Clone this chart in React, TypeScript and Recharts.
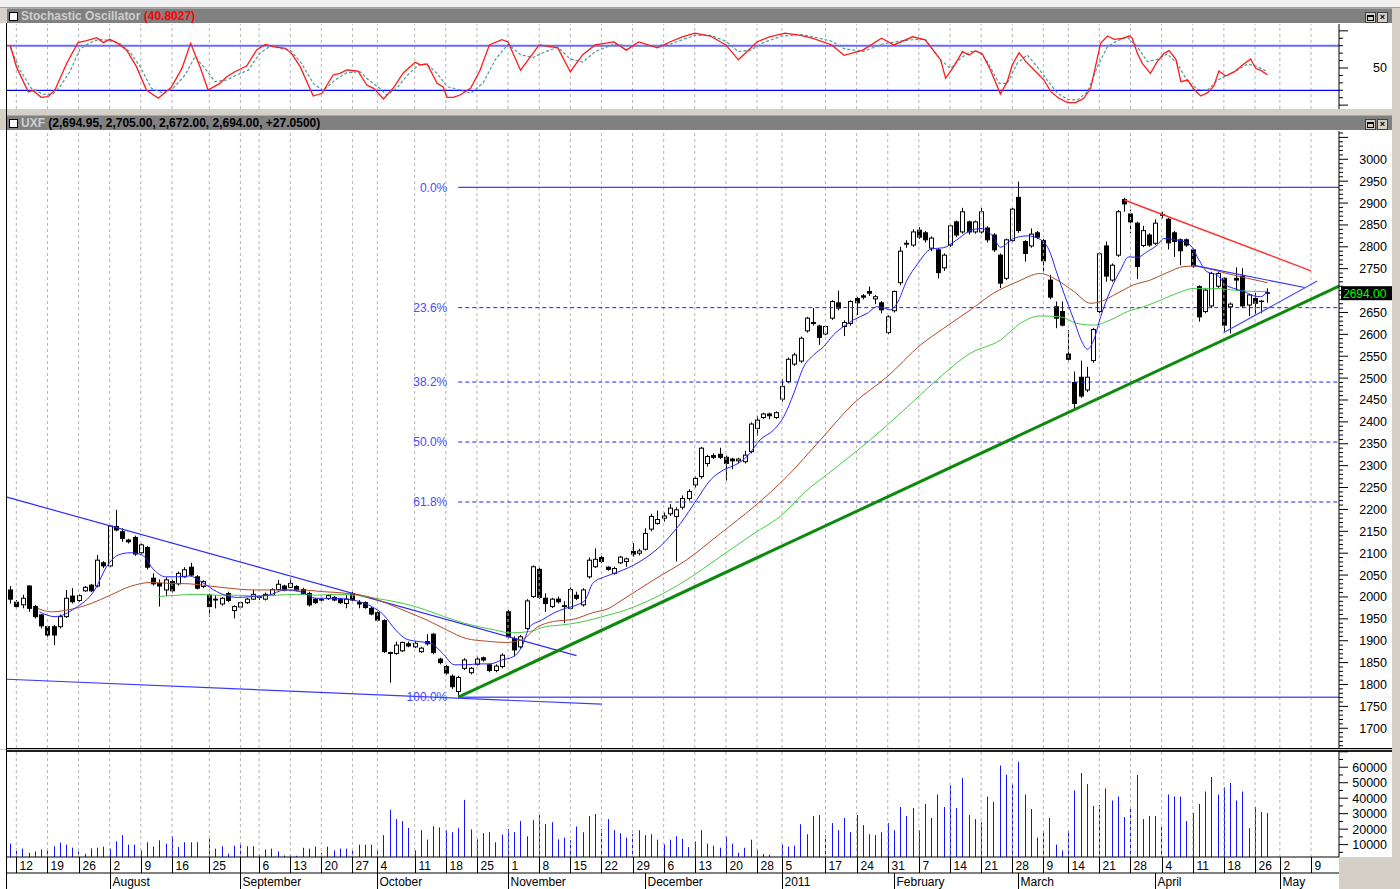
import React from 'react'
import { ComposedChart, Bar, Line, XAxis, YAxis, ReferenceLine } from 'recharts'

const FONT = '"Liberation Sans", Arial, sans-serif'
const X_DOMAIN: [number, number] = [-0.5, 213.5]
const PRICE_DOMAIN: [number, number] = [1654.9, 3064.6]
const STOCH_DOMAIN: [number, number] = [-5.2, 109.2]
const VOL_DOMAIN: [number, number] = [2000, 70500]

// week separators (bar index) and their day labels
const WEEK_TICKS = [1, 6, 11, 16, 21, 26, 32, 37, 40, 45, 50, 55, 59, 65, 70, 75, 80, 85, 90, 95, 100, 105, 110, 115, 120, 124, 131, 136, 141, 146, 151, 156, 161, 166, 170, 175, 180, 185, 190, 195, 200, 204, 209]
const WEEK_LABELS = ['12', '19', '26', '2', '9', '16', '25', '', '6', '13', '20', '27', '4', '11', '18', '25', '1', '8', '15', '22', '29', '6', '13', '20', '28', '5', '17', '24', '31', '7', '14', '21', '28', '9', '14', '21', '28', '4', '11', '18', '26', '2', '9']
const MONTH_TICKS = [16, 37, 59, 80, 102, 124, 142, 162, 184, 204]
const MONTH_LABELS = ['August', 'September', 'October', 'November', 'December', '2011', 'February', 'March', 'April', 'May']

// daily candles, Jul 2010 - Apr 28 2011
const OPEN = [2016, 1988, 1982, 2025, 1978, 1959, 1932, 1932, 1932, 1955, 2002, 1992, 2014, 2027, 2025, 2078, 2071, 2161, 2149, 2130, 2136, 2101, 2113, 2043, 2031, 2016, 2035, 2030, 2046, 2068, 2046, 2024, 2004, 1995, 1984, 2008, 1969, 1977, 1987, 1995, 1999, 1995, 2004, 2017, 2025, 2022, 2024, 2017, 2008, 1995, 1994, 1996, 1999, 1995, 1985, 2008, 1987, 1987, 1974, 1964, 1946, 1873, 1871, 1877, 1893, 1886, 1875, 1898, 1915, 1858, 1841, 1819, 1784, 1837, 1827, 1846, 1861, 1845, 1832, 1841, 1966, 1905, 1886, 1928, 2001, 2063, 1997, 1978, 1995, 1978, 1974, 2004, 1982, 2046, 2069, 2090, 2068, 2054, 2078, 2081, 2104, 2100, 2109, 2155, 2168, 2180, 2190, 2184, 2205, 2225, 2256, 2275, 2305, 2323, 2326, 2319, 2315, 2311, 2309, 2332, 2385, 2410, 2418, 2410, 2452, 2492, 2532, 2539, 2608, 2627, 2619, 2601, 2637, 2672, 2618, 2625, 2682, 2688, 2698, 2681, 2672, 2604, 2654, 2718, 2806, 2804, 2838, 2832, 2797, 2793, 2752, 2804, 2857, 2834, 2857, 2834, 2834, 2843, 2827, 2781, 2728, 2814, 2913, 2812, 2802, 2832, 2814, 2724, 2663, 2652, 2555, 2490, 2502, 2473, 2540, 2652, 2802, 2724, 2781, 2908, 2875, 2854, 2803, 2827, 2808, 2872, 2863, 2832, 2816, 2816, 2793, 2709, 2652, 2665, 2710, 2728, 2663, 2728, 2733, 2667, 2682, 2675, 2695]
const HIGH = [2025, 1993, 2005, 2027, 1982, 1961, 1936, 1936, 1960, 2016, 2020, 2006, 2025, 2030, 2096, 2082, 2164, 2199, 2157, 2133, 2140, 2122, 2117, 2054, 2040, 2045, 2040, 2058, 2068, 2078, 2050, 2038, 2008, 2004, 2000, 2012, 1981, 1990, 1998, 2016, 2004, 2010, 2020, 2039, 2028, 2043, 2027, 2021, 2012, 1998, 1997, 2006, 2002, 1998, 2004, 2012, 1993, 1990, 1977, 1967, 1949, 1875, 1898, 1898, 1898, 1899, 1886, 1915, 1918, 1861, 1845, 1823, 1820, 1860, 1840, 1864, 1864, 1848, 1846, 1871, 1970, 1910, 1913, 1995, 2072, 2067, 2008, 1998, 2001, 1990, 2022, 2012, 2020, 2090, 2111, 2095, 2070, 2069, 2094, 2090, 2123, 2110, 2157, 2190, 2197, 2193, 2212, 2205, 2232, 2246, 2275, 2343, 2325, 2328, 2341, 2323, 2318, 2318, 2334, 2399, 2414, 2421, 2421, 2424, 2498, 2547, 2558, 2595, 2640, 2660, 2622, 2621, 2678, 2700, 2632, 2678, 2686, 2692, 2709, 2690, 2676, 2644, 2700, 2800, 2815, 2840, 2845, 2836, 2824, 2797, 2785, 2851, 2860, 2889, 2860, 2860, 2889, 2847, 2831, 2785, 2819, 2889, 2949, 2815, 2842, 2836, 2818, 2736, 2675, 2675, 2610, 2515, 2540, 2526, 2615, 2787, 2812, 2762, 2884, 2912, 2885, 2857, 2848, 2831, 2863, 2880, 2866, 2836, 2819, 2819, 2796, 2712, 2705, 2743, 2743, 2731, 2673, 2753, 2751, 2693, 2695, 2679, 2705]
const LOW = [1985, 1974, 1974, 1966, 1951, 1928, 1909, 1890, 1928, 1952, 1985, 1989, 2012, 2011, 2022, 2066, 2068, 2150, 2126, 2122, 2094, 2098, 2063, 2026, 1978, 2002, 2010, 2026, 2044, 2048, 2017, 2020, 1955, 1974, 1980, 1988, 1951, 1974, 1984, 1993, 1993, 1992, 2002, 2015, 2013, 2020, 2013, 2005, 1978, 1984, 1989, 1993, 1990, 1984, 1974, 1990, 1974, 1973, 1958, 1944, 1872, 1804, 1868, 1874, 1885, 1883, 1872, 1889, 1869, 1846, 1822, 1790, 1771, 1833, 1823, 1843, 1852, 1828, 1828, 1837, 1905, 1864, 1882, 1925, 1998, 1996, 1966, 1975, 1985, 1940, 1970, 1993, 1978, 2042, 2066, 2077, 2060, 2051, 2075, 2069, 2092, 2095, 2106, 2150, 2165, 2172, 2185, 2081, 2200, 2220, 2250, 2270, 2298, 2315, 2315, 2266, 2292, 2305, 2305, 2328, 2368, 2407, 2406, 2407, 2446, 2488, 2528, 2535, 2604, 2620, 2576, 2598, 2633, 2655, 2596, 2620, 2644, 2680, 2688, 2669, 2648, 2600, 2650, 2712, 2798, 2800, 2818, 2810, 2790, 2728, 2745, 2800, 2822, 2830, 2828, 2830, 2830, 2810, 2788, 2706, 2724, 2810, 2832, 2766, 2798, 2818, 2743, 2680, 2614, 2618, 2540, 2429, 2455, 2468, 2535, 2648, 2720, 2720, 2777, 2880, 2831, 2726, 2799, 2800, 2804, 2865, 2794, 2777, 2758, 2800, 2752, 2629, 2648, 2660, 2706, 2606, 2602, 2701, 2660, 2642, 2646, 2648, 2672]
const CLOSE = [1995, 1978, 1997, 1974, 1955, 1934, 1913, 1913, 1955, 1997, 1989, 2003, 2022, 2014, 2084, 2071, 2162, 2153, 2134, 2126, 2098, 2119, 2068, 2030, 2025, 2039, 2014, 2054, 2062, 2050, 2020, 2035, 1978, 1993, 1997, 1992, 1978, 1987, 1995, 2006, 2000, 2006, 2017, 2029, 2016, 2031, 2016, 2008, 1982, 1987, 1993, 2003, 1993, 1987, 1995, 1993, 1984, 1976, 1961, 1947, 1875, 1871, 1890, 1896, 1888, 1894, 1883, 1893, 1873, 1850, 1826, 1795, 1816, 1856, 1837, 1858, 1856, 1832, 1842, 1867, 1909, 1879, 1909, 1991, 2069, 1999, 1985, 1995, 1989, 1980, 2017, 1997, 2016, 2084, 2086, 2081, 2063, 2065, 2091, 2087, 2098, 2105, 2145, 2184, 2177, 2185, 2203, 2199, 2225, 2241, 2271, 2340, 2321, 2319, 2319, 2305, 2311, 2315, 2324, 2395, 2404, 2418, 2414, 2421, 2481, 2543, 2553, 2591, 2637, 2625, 2593, 2618, 2675, 2660, 2627, 2675, 2672, 2685, 2694, 2686, 2656, 2640, 2698, 2790, 2808, 2834, 2822, 2816, 2820, 2741, 2781, 2848, 2827, 2880, 2834, 2857, 2880, 2816, 2793, 2717, 2816, 2886, 2837, 2785, 2829, 2822, 2768, 2685, 2637, 2621, 2543, 2442, 2459, 2502, 2611, 2784, 2733, 2758, 2880, 2898, 2857, 2755, 2837, 2804, 2854, 2874, 2809, 2812, 2791, 2804, 2756, 2640, 2701, 2739, 2739, 2621, 2669, 2724, 2665, 2690, 2671, 2676, 2694]
const VOLUME = [10600, 6300, 7400, 4700, 5600, 6900, 6300, 8900, 11300, 10000, 8000, 5600, 4100, 7600, 8000, 8700, 7400, 12100, 16100, 10000, 10000, 6300, 11500, 8700, 12800, 10600, 15400, 8400, 11500, 11500, 11500, null, 14100, 7400, 8900, 4100, 9300, 11500, 8900, 8900, 3400, 6900, 7400, 5600, 3000, 3400, 2800, 8000, 7400, 8700, 4700, 8700, 6300, 7400, 7400, 6700, 10000, 10000, 10000, 6700, 16100, 32400, 26500, 25200, 20800, 6300, 19300, 13200, 21900, 21100, 19300, 18000, 20600, 38900, 19800, 13400, 17400, 18000, 11500, 16500, 20000, 18000, 25200, 15400, 25800, 29100, 23200, 24500, 13400, 14500, 12800, 21700, 18000, 28500, 29800, 20000, 26500, 19300, 17400, 14500, 16700, 19300, 16100, 16700, 13200, 10200, 13200, 15400, 13700, 8400, 12000, 19300, 10600, 9300, 8000, 15400, 10600, 4700, 8000, 13200, 6700, 3900, 3400, null, 10000, 8700, 9300, 23200, 16700, 28500, 29100, 16100, 23900, 19300, 27200, 18000, 29100, 22600, 16700, 16100, 18000, 23900, 19300, 34300, 28500, 33700, 19300, 36300, 27200, 42400, 34300, 48300, 33700, 53000, 29100, 26500, 24500, 41100, 37600, 61100, 55200, 49100, 63500, 42400, 33000, 14500, 18700, 27200, 10000, 6300, 19300, 45000, 56300, 49100, 35000, 35600, 46300, 38500, 41100, 27800, 35000, 55000, 26500, 28500, 28500, 21300, 42400, 41100, 41100, 25200, 30400, 36300, 44300, 53700, 42400, 47000, 49800, 38500, 44300, 20600, 34300, 31100, 30400]

// moving averages: [bar, price]
const MA_FAST = [[4.7, 1966], [7.2, 1955], [10.4, 1974], [13.6, 2016], [15.5, 2069], [17.4, 2096], [19.3, 2101], [21.2, 2096], [23.1, 2062], [25, 2046], [26.9, 2046], [28.8, 2048], [30.7, 2035], [32.7, 2016], [34.6, 2004], [36.5, 1999], [39, 2001], [41.5, 2004], [44.1, 2016], [46.6, 2012], [49.2, 1997], [51.7, 1997], [54.3, 1995], [56.2, 1989], [58.1, 1978], [60, 1959], [61.9, 1925], [63.8, 1903], [65.7, 1898], [67.6, 1894], [69.5, 1871], [71.4, 1845], [73.3, 1845], [75.2, 1847], [77.1, 1847], [79, 1856], [80.9, 1864], [82.2, 1886], [83.5, 1932], [85.4, 1947], [87.3, 1963], [89.2, 1974], [91.1, 1982], [92.4, 1993], [93.6, 2031], [95.5, 2046], [97.5, 2056], [101.2, 2081], [104.4, 2115], [107.7, 2168], [110.3, 2222], [112.5, 2267], [114.6, 2290], [116.8, 2304], [118.4, 2321], [120.5, 2359], [122.7, 2382], [124.3, 2412], [125.9, 2465], [127.5, 2526], [129.1, 2553], [130.7, 2572], [132.3, 2599], [133.9, 2618], [135.5, 2633], [137.7, 2648], [139.3, 2663], [140.4, 2660], [141.4, 2656], [142.5, 2671], [144.1, 2724], [145.7, 2759], [148, 2795], [150, 2798], [152, 2815], [154, 2835], [156, 2842], [158, 2822], [159.1, 2799], [161.2, 2819], [163.4, 2825], [165.5, 2817], [166.9, 2793], [168.2, 2739], [169.5, 2686], [170.9, 2633], [172.2, 2583], [173.1, 2566], [174.1, 2587], [175.2, 2640], [176.8, 2701], [178.4, 2747], [179.7, 2777], [181.1, 2776], [182.7, 2789], [184.3, 2804], [185.4, 2819], [187, 2816], [188.6, 2812], [189.9, 2799], [191, 2770], [192.3, 2743], [193.9, 2736], [195.3, 2713], [196.6, 2705], [198.2, 2698], [199.8, 2688], [200.9, 2686], [202, 2698]]
const MA_MID = [[4.4, 1974], [6.6, 1966], [9.1, 1970], [13, 1985], [16.1, 2004], [19.3, 2024], [22.5, 2033], [25.7, 2031], [28.8, 2030], [32, 2025], [35.2, 2020], [39, 2016], [42.8, 2016], [46.6, 2016], [50.4, 2012], [54.3, 2008], [57.4, 2001], [60.6, 1985], [63.8, 1966], [67, 1947], [70.1, 1925], [73.3, 1905], [76.5, 1899], [79.7, 1896], [82.2, 1902], [84.8, 1932], [87.3, 1944], [90.5, 1949], [93.6, 1964], [96.2, 1974], [98, 1990], [103.4, 2039], [108.7, 2085], [114.1, 2145], [119.5, 2206], [124.8, 2275], [130.2, 2359], [135.5, 2442], [140.9, 2503], [146.3, 2576], [150, 2614], [154.3, 2656], [158, 2694], [161.8, 2720], [165.5, 2739], [168.2, 2724], [170.9, 2698], [173.6, 2671], [175.2, 2675], [177.9, 2694], [180.5, 2713], [183.2, 2724], [185.9, 2741], [188.6, 2755], [190.2, 2756], [192.3, 2751], [195.5, 2739], [198.8, 2728], [202, 2718]]
const MA_SLOW = [[23.8, 2001], [26.9, 2004], [30.1, 2006], [33.3, 2004], [36.5, 2004], [39.6, 2002], [42.8, 2004], [46, 2006], [49.2, 2004], [52.4, 2006], [55.5, 2004], [58.7, 1997], [61.9, 1989], [65.1, 1978], [68.2, 1963], [71.4, 1947], [74.6, 1934], [77.8, 1925], [80.3, 1918], [83.5, 1921], [86, 1932], [88.6, 1936], [91.1, 1941], [93.6, 1949], [96.2, 1959], [98, 1966], [102.8, 1993], [108.7, 2039], [114.1, 2092], [119.5, 2145], [123.7, 2184], [127.5, 2237], [132.9, 2298], [138.2, 2359], [143.6, 2427], [148.9, 2496], [154.3, 2557], [159.1, 2587], [162.3, 2625], [165.5, 2642], [168.7, 2640], [171.4, 2625], [174.1, 2621], [176.8, 2633], [179.5, 2652], [182.1, 2663], [184.8, 2678], [187.5, 2694], [190.2, 2705], [193.4, 2705], [196.6, 2701], [199.8, 2698], [202, 2698]]

// stochastic %K and %D: [bar, value]
const STOCH_K = [[0, 81], [1, 51.8], [2.9, 18.1], [3.7, 19.5], [5, 10.5], [6.1, 11.4], [7.2, 20.4], [9.1, 56.3], [10.9, 84.1], [12.3, 86.8], [13.9, 90.8], [15, 84.1], [16, 88.6], [17.1, 84.1], [18.7, 74.2], [20.3, 51.8], [21.9, 20.4], [23.8, 9.2], [25.9, 24], [27.6, 49.5], [29, 83.2], [30.5, 51.8], [31.8, 20.4], [33.7, 29.3], [34.8, 38.3], [36.1, 45], [38, 52.7], [39.6, 74.2], [41, 81.8], [42.3, 78.7], [44.2, 76.5], [45.2, 69.7], [46.6, 51.8], [48.7, 12.3], [50.1, 15.9], [51.9, 40.6], [53, 42.8], [54.1, 47.3], [55.9, 45.9], [57.3, 27.1], [58.4, 22.6], [60, 8.3], [61.6, 23.5], [63.2, 43.7], [65.1, 57.6], [66, 54], [67, 55.4], [68.6, 29.3], [69.6, 24], [70.2, 10.5], [71.2, 10.5], [72.3, 13.6], [74, 23], [75.5, 47], [77, 81], [79, 88], [80, 85], [82, 47], [85, 81], [88, 77], [90, 45], [92, 68], [94, 81], [97, 85], [99, 74], [101, 85], [104, 77], [106, 85], [108, 92], [110, 97], [112.5, 93], [115, 81], [117, 61], [120, 85], [122, 92], [124.5, 97], [127, 94], [129, 90], [132, 81], [134, 67], [137, 74], [140, 90], [142, 81], [145, 92], [147, 88], [149.5, 60.8], [150.3, 36.1], [151.6, 51.8], [153, 72], [154.1, 67.5], [155.1, 73.3], [156.2, 68.8], [157.5, 47.3], [159.1, 15], [160.2, 31.6], [161, 54], [162.1, 70.6], [163.2, 58.5], [164.8, 45], [166.1, 33.8], [167.2, 18.1], [168.5, 9.2], [169.9, 3.3], [171.2, 3.3], [172.5, 9.2], [173.6, 22.6], [175.2, 83.2], [176.3, 93], [177.4, 88.6], [178.7, 89.9], [179.8, 93], [180.3, 89.9], [181.1, 69.7], [181.9, 56.3], [183.2, 42.8], [184.3, 58.5], [185.4, 69.7], [186.2, 73.3], [187.3, 61.6], [188.1, 31.6], [189.2, 33.8], [190.2, 21.3], [191.3, 12.3], [192.4, 16.8], [193.4, 25.8], [194.2, 45.9], [195.3, 39.2], [196.7, 45], [198, 54], [199.3, 62.1], [200.1, 49.5], [201, 46.4], [202, 40.8]]
const STOCH_D = [[0, 78.7], [1.6, 47.3], [3.4, 22.6], [5.3, 14.5], [6.9, 15], [8, 24.9], [9.6, 45], [11.2, 75.1], [12.8, 84.1], [14.4, 88.6], [16, 86.8], [17.6, 83.2], [19.2, 72], [20.9, 51.8], [22.7, 22.6], [24.6, 15.9], [26.2, 22.6], [28.1, 40.6], [29.7, 65.2], [31.3, 49.5], [32.9, 31.6], [34.8, 33.8], [36.4, 40.6], [38.3, 47.3], [40.1, 69.7], [41.8, 79.6], [43.4, 76.5], [45, 74.2], [46.8, 56.3], [48.7, 29.3], [50.3, 19.5], [52.2, 33.8], [54.1, 43.7], [56.2, 45], [57.6, 33.8], [59.2, 24], [60.5, 13.6], [62.1, 22.6], [63.7, 39.2], [65.6, 54], [66.9, 55.4], [68.6, 42.8], [70.2, 24.9], [72.3, 20.4], [74, 16], [76, 30], [78, 62], [80, 82], [82, 68], [84, 64], [86, 72], [88, 78], [90, 62], [92, 58], [94, 72], [97, 82], [99, 80], [101, 80], [104, 80], [106, 82], [108, 88], [110, 94], [112.5, 94], [115, 86], [117, 72], [119, 74], [121, 84], [124, 93], [127, 95], [129, 92], [132, 86], [134, 76], [137, 72], [140, 82], [142, 85], [145, 88], [147, 89], [149.5, 60.8], [151.1, 49.5], [152.7, 63], [154.3, 72], [155.7, 72], [157, 58.5], [158.9, 29.3], [160.2, 29.3], [161.8, 56.3], [163.4, 67.5], [165, 51.8], [166.6, 33.8], [168.3, 15.9], [169.9, 7.8], [171.5, 6.9], [173.1, 18.1], [174.7, 51.8], [176.3, 78.7], [177.9, 86.8], [179.5, 91.3], [181.1, 78.7], [182.7, 58.5], [184.3, 61.6], [185.9, 68.8], [187.5, 56.3], [189.2, 31.6], [190.8, 21.3], [192.4, 20.4], [194, 33.8], [195.6, 40.6], [197.2, 47.3], [198.8, 55.4], [200.4, 51.8], [202, 45]]

// fibonacci retracement levels drawn from the October low
const FIB_LEVELS = [2936, 2661, 2491, 2354, 2217, 1771]
const FIB_LABELS = ['0.0%', '23.6%', '38.2%', '50.0%', '61.8%', '100.0%']
const FIB_START = 72

// hand-drawn trend lines: [bar, price] endpoints
const CHANNEL_UPPER = [[-0.5, 2228], [91, 1866]]
const CHANNEL_LOWER = [[-0.5, 1812], [95, 1755]]
const SUPPORT_LINE = [[72, 1771], [213.5, 2710]]
const RESIST_LINE = [[179, 2907], [209, 2745]]
const WEDGE_UPPER = [[190, 2758], [208, 2707]]
const WEDGE_LOWER = [[195, 2604], [210, 2722]]
const LAST_PRICE = 2694

const PRICE_TICKS = Array.from({ length: 141 }, (_, i) => 1660 + i * 10)
const STOCH_TICKS = [0, 10, 20, 30, 40, 50, 60, 70, 80, 90, 100]
const VOL_TICKS = Array.from({ length: 14 }, (_, i) => 5000 + i * 5000)

const candles = OPEN.map((open, k) => ({ k, open, high: HIGH[k], low: LOW[k], close: CLOSE[k], range: [LOW[k], HIGH[k]] }))
const volumes = VOLUME.map((v, k) => ({ k, v }))
const pts = (arr: number[][]) => arr.map(([k, v]) => ({ k, v }))
const seg = (arr: number[][]) => arr.map(([x, y]) => ({ x, y })) as any

function Candle(props: any) {
  const { x, y, width, height, payload } = props
  if (!payload || x == null || y == null) return null
  const { open, close, high, low } = payload
  const top = Math.min(y, y + height)
  const h = Math.abs(height)
  const span = high - low
  const at = (v: number) => (span > 0 ? top + ((high - v) / span) * h : top)
  const cx = Math.round(x + width / 2) + 0.5
  const yo = at(open)
  const yc = at(close)
  const bTop = Math.min(yo, yc)
  const bH = Math.max(Math.abs(yo - yc), 0.5)
  const up = close >= open
  return (
    <g>
      <line x1={cx} x2={cx} y1={top} y2={top + h} stroke="#000" strokeWidth={1} />
      <rect x={cx - 2} y={bTop} width={4} height={bH} fill={up ? '#fff' : '#000'} stroke="#000" strokeWidth={1} />
    </g>
  )
}

function VolBar(props: any) {
  const { x, y, width, height } = props
  if (x == null || !height) return null
  return <rect x={Math.round(x + width / 2 - 0.5)} y={y} width={1} height={height} fill="#1010ff" />
}

function axisTick(majorEvery: number, labelOk: (v: number) => boolean) {
  return (props: any) => {
    const { x, y, payload } = props
    const v = payload.value
    const major = v % majorEvery === 0
    return (
      <g>
        <line x1={x} x2={x + (major ? 9 : 4)} y1={y} y2={y} stroke="#000" />
        {labelOk(v) && (
          <text x={x + 48} y={y + 4.5} textAnchor="end" fontSize={12.5} fontFamily={FONT} fill="#000">
            {v}
          </text>
        )}
      </g>
    )
  }
}

const DayTick = (props: any) => {
  const { x, y, payload } = props
  const lx = Math.round(x) + 0.5
  const i = WEEK_TICKS.indexOf(payload.value)
  return (
    <g>
      <line x1={lx} x2={lx} y1={y} y2={y + 16} stroke="#000" />
      <text x={lx + 3} y={y + 12.5} fontSize={12} fontFamily={FONT} fill="#000">{WEEK_LABELS[i]}</text>
    </g>
  )
}

const MonthTick = (props: any) => {
  const { x, y, payload } = props
  const lx = Math.round(x) + 0.5
  const i = MONTH_TICKS.indexOf(payload.value)
  return (
    <g>
      <line x1={lx} x2={lx} y1={y} y2={y + 16} stroke="#000" />
      <text x={lx + 2} y={y + 12.5} fontSize={12} fontFamily={FONT} fill="#000">{MONTH_LABELS[i]}</text>
    </g>
  )
}

const weekGrid = (axisId?: string) =>
  WEEK_TICKS.map((k) => (
    <ReferenceLine key={'g' + k} x={k} xAxisId={axisId ?? 0} stroke="#b4b4b4" strokeDasharray="3 3" />
  ))

function TitleBar({ top, children }: { top: number; children: React.ReactNode }) {
  const btn: React.CSSProperties = {
    position: 'absolute', top: 3, width: 9, height: 9, background: '#d4d0c8', border: '1px solid #404040',
    fontSize: 9, lineHeight: '9px', textAlign: 'center', color: '#000', fontWeight: 'bold',
  }
  return (
    <div style={{ position: 'absolute', left: 7, top, width: 1385, height: 15, background: '#808080', borderTop: '1px solid #a8a8a8', boxSizing: 'border-box', fontFamily: FONT, fontWeight: 'bold', fontSize: 12, lineHeight: '14px', whiteSpace: 'nowrap' }}>
      <div style={{ position: 'absolute', left: 2, top: 3, width: 7, height: 7, background: '#fff', border: '1px solid #000' }} />
      <div style={{ position: 'absolute', left: 14, top: 0 }}>{children}</div>
      <div style={{ ...btn, left: 1358 }}>
        <div style={{ position: 'absolute', left: 1, top: 2, width: 5, height: 3, border: '1px solid #000', borderTopWidth: 2 }} />
      </div>
      <div style={{ ...btn, left: 1370 }}>×</div>
    </div>
  )
}

const PriceLabel = (props: any) => {
  const { viewBox } = props
  const right = viewBox.x + viewBox.width
  return (
    <g>
      <rect x={right + 2} y={viewBox.y - 7} width={52} height={14} fill="#000" />
      <text x={right + 4} y={viewBox.y + 4.5} fontSize={12} fontFamily={FONT} fill="#00ff00">{LAST_PRICE.toFixed(2)}</text>
    </g>
  )
}

export default function App() {
  const W = 1392
  const yAxisCommon = {
    orientation: 'right' as const, width: 53, type: 'number' as const, interval: 0 as const,
    tickLine: false, tickSize: 0, tickMargin: 0, axisLine: { stroke: '#000' }, allowDataOverflow: true,
  }
  // price axis labels every 50; the one under the last-price box stays hidden
  const priceLabelOk = (v: number) => v % 50 === 0 && v >= 1700 && v <= 3000 && Math.abs(v - LAST_PRICE) > 15
  return (
    <div style={{ position: 'absolute', left: 0, top: 0, width: 1400, height: 889, background: '#d4d0c8', overflow: 'hidden' }}>
      <div style={{ position: 'absolute', left: 0, top: 0, width: 1400, height: 7, background: '#f0f0f0', borderBottom: '1px solid #a0a0a0' }} />
      <TitleBar top={8}>
        <span style={{ color: '#cfcfcf' }}>Stochastic Oscillator </span>
        <span style={{ color: '#ff0000' }}>(40.8027)</span>
      </TitleBar>
      <TitleBar top={115}>
        <span style={{ color: '#cfcfcf' }}>UXF </span>
        <span style={{ color: '#000' }}>(2,694.95, 2,705.00, 2,672.00, 2,694.00, +27.0500)</span>
      </TitleBar>

      {/* panel backgrounds */}
      <div style={{ position: 'absolute', left: 0, top: 23, width: W, height: 86, background: '#fff' }} />
      <div style={{ position: 'absolute', left: 0, top: 130, width: W, height: 619, background: '#fff' }} />
      <div style={{ position: 'absolute', left: 0, top: 750, width: W, height: 139, background: '#fff' }} />
      <div style={{ position: 'absolute', left: 1339, top: 857, width: 61, height: 32, background: '#d4d0c8' }} />
      <div style={{ position: 'absolute', left: 6, top: 23, width: 1, height: 866, background: '#000' }} />
      <div style={{ position: 'absolute', left: 6, top: 748, width: 1386, height: 1, background: '#000' }} />
      <div style={{ position: 'absolute', left: 6, top: 750, width: 1386, height: 2, background: '#202020' }} />

      {/* stochastic */}
      <div style={{ position: 'absolute', left: 0, top: 23 }}>
        <ComposedChart width={W} height={86} data={candles} margin={{ top: 1, right: 0, bottom: 0, left: 7 }}>
          <XAxis type="number" dataKey="k" domain={X_DOMAIN} hide allowDataOverflow />
          <YAxis {...yAxisCommon} domain={STOCH_DOMAIN} ticks={STOCH_TICKS} tick={axisTick(50, (v) => v === 50)} />
          {weekGrid()}
          <ReferenceLine y={80} stroke="#6a6aff" strokeWidth={2} />
          <ReferenceLine y={20} stroke="#0000ff" strokeWidth={1.2} />
          <Line data={pts(STOCH_D)} dataKey="v" type="linear" stroke="#4f9a9a" strokeWidth={1.2} strokeDasharray="3 2" dot={false} isAnimationActive={false} />
          <Line data={pts(STOCH_K)} dataKey="v" type="linear" stroke="#ff1a1a" strokeWidth={1.3} dot={false} isAnimationActive={false} />
        </ComposedChart>
      </div>

      {/* price */}
      <div style={{ position: 'absolute', left: 0, top: 130 }}>
        <ComposedChart width={W} height={619} data={candles} margin={{ top: 1, right: 0, bottom: 1, left: 7 }}>
          <XAxis type="number" dataKey="k" domain={X_DOMAIN} hide allowDataOverflow />
          <YAxis {...yAxisCommon} domain={PRICE_DOMAIN} ticks={PRICE_TICKS} tick={axisTick(50, priceLabelOk)} />
          {weekGrid()}
          {FIB_LEVELS.map((p, i) => (
            <ReferenceLine
              key={'fib' + i}
              segment={[{ x: FIB_START, y: p }, { x: 213.5, y: p }]}
              stroke={i === 0 ? '#1010ff' : i === 5 ? '#5a5aff' : '#2020ff'}
              strokeWidth={i === 5 ? 1.6 : 1}
              strokeDasharray={i === 0 || i === 5 ? undefined : '4 3'}
              label={{ value: FIB_LABELS[i], position: 'left', offset: 11, fill: '#4a4aff', fontSize: 12, fontFamily: FONT }}
            />
          ))}
          <ReferenceLine segment={seg(CHANNEL_UPPER)} stroke="#2a2aff" strokeWidth={1.2} />
          <ReferenceLine segment={seg(CHANNEL_LOWER)} stroke="#3a3aff" strokeWidth={1.2} />
          <Line data={pts(MA_SLOW)} dataKey="v" type="monotone" stroke="#48c848" strokeWidth={1} dot={false} isAnimationActive={false} />
          <Line data={pts(MA_MID)} dataKey="v" type="monotone" stroke="#b24a28" strokeWidth={1} dot={false} isAnimationActive={false} />
          <Line data={pts(MA_FAST)} dataKey="v" type="monotone" stroke="#2525ff" strokeWidth={1} dot={false} isAnimationActive={false} />
          <Bar dataKey="range" barSize={5} shape={(p: any) => <Candle {...p} />} isAnimationActive={false} />
          <ReferenceLine segment={seg(SUPPORT_LINE)} stroke="#0d8a0d" strokeWidth={3} />
          <ReferenceLine segment={seg(RESIST_LINE)} stroke="#ff3030" strokeWidth={1.4} />
          <ReferenceLine segment={seg(WEDGE_UPPER)} stroke="#3030ff" strokeWidth={1.2} />
          <ReferenceLine segment={seg(WEDGE_LOWER)} stroke="#4a4aff" strokeWidth={1.2} />
          <ReferenceLine y={LAST_PRICE} stroke="none" label={(p: any) => <PriceLabel {...p} />} />
        </ComposedChart>
      </div>

      {/* volume + date axis */}
      <div style={{ position: 'absolute', left: 0, top: 750 }}>
        <ComposedChart width={W} height={139} data={volumes} margin={{ top: 1, right: 0, bottom: 0, left: 7 }}>
          <XAxis xAxisId="day" type="number" dataKey="k" domain={X_DOMAIN} ticks={WEEK_TICKS} interval={0} height={16}
            tick={DayTick} tickLine={false} tickSize={0} tickMargin={0} axisLine={{ stroke: '#000' }} allowDataOverflow />
          <XAxis xAxisId="month" type="number" dataKey="k" domain={X_DOMAIN} ticks={MONTH_TICKS} interval={0} height={16}
            tick={MonthTick} tickLine={false} tickSize={0} tickMargin={0} axisLine={{ stroke: '#000' }} allowDataOverflow />
          <YAxis {...yAxisCommon} domain={VOL_DOMAIN} ticks={VOL_TICKS} tick={axisTick(10000, (v) => v % 10000 === 0 && v <= 60000)} />
          {weekGrid('day')}
          <Bar xAxisId="day" dataKey="v" barSize={1} shape={(p: any) => <VolBar {...p} />} isAnimationActive={false} />
        </ComposedChart>
      </div>
    </div>
  )
}
